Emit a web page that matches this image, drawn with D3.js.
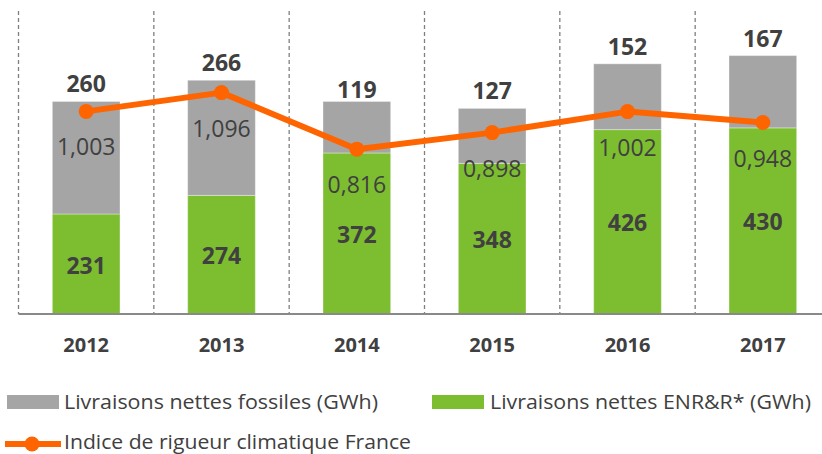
<!DOCTYPE html>
<html>
<head>
<meta charset="utf-8">
<script src="https://cdn.jsdelivr.net/npm/d3@7"></script>
<style>
  html, body { margin: 0; padding: 0; background: #fff; }
  svg { display: block; font-family: "Open Sans", sans-serif; }
</style>
</head>
<body>
<svg id="chart" width="822" height="454"></svg>
<script>
// ---- data ----
const years = ["2012", "2013", "2014", "2015", "2016", "2017"];
const fossiles = [260, 266, 119, 127, 152, 167];
const enr = [231, 274, 372, 348, 426, 430];
const indice = [1.003, 1.096, 0.816, 0.898, 1.002, 0.948];
const legendLabels = [
  "Livraisons nettes fossiles (GWh)",
  "Livraisons nettes ENR&R* (GWh)",
  "Indice de rigueur climatique France"
];

// ---- styles ----
const cGrey = "#a5a5a5", cGreen = "#7dbe31", cOrange = "#fe6500", cText = "#404040";

const svg = d3.select("#chart");
const frLocale = d3.formatLocale({decimal: ",", thousands: "\u00a0", grouping: [3], currency: ["", " €"]});
const fmtIdx = frLocale.format(".3f");

const x = d3.scaleBand().domain(years).range([18.5, 830.5]).paddingInner(0.5).paddingOuter(0.25);
const y = d3.scaleLinear().domain([0, 700]).range([314, 11]);
const y2 = d3.scaleLinear().domain([0, 1.5]).range([314, 11]);

const rows = years.map((yr, i) => ({yr, enr: enr[i], fos: fossiles[i], idx: indice[i]}));

// dashed separators
const bounds = d3.range(years.length + 1).map(i => x.range()[0] + i * x.step());
svg.append("g").selectAll("line").data(bounds).join("line")
  .attr("x1", d => d).attr("x2", d => d)
  .attr("y1", y(700)).attr("y2", y(0))
  .attr("stroke", "#7f7f7f").attr("stroke-width", 1.3)
  .attr("stroke-dasharray", "4,3");

// stacked bars
const stack = d3.stack().keys(["enr", "fos"])(rows);
const colors = {enr: cGreen, fos: cGrey};
svg.append("g").selectAll("g").data(stack).join("g")
  .attr("fill", d => colors[d.key])
  .selectAll("rect").data(d => d).join("rect")
  .attr("x", d => x(d.data.yr))
  .attr("width", x.bandwidth())
  .attr("y", d => y(d[1]))
  .attr("height", d => y(d[0]) - y(d[1]))
  .attr("stroke", "rgba(255,255,255,0.35)").attr("stroke-width", 1);

// axis baseline
const xAxis = d3.axisBottom(x).tickSize(0).tickPadding(0);
const gx = svg.append("g").attr("transform", `translate(0,${y(0)})`).call(xAxis);
gx.select(".domain").attr("d", `M18.5,0H822`).attr("stroke", "#898989").attr("stroke-width", 2);
gx.selectAll("text")
  .attr("y", 38).attr("dy", 0)
  .attr("font-family", "Open Sans").attr("font-size", 20).attr("font-weight", "bold")
  .attr("fill", cText);

// line
const line = d3.line().x(d => x(d.yr) + x.bandwidth() / 2).y(d => y2(d.idx));
svg.append("path").datum(rows)
  .attr("d", line).attr("fill", "none")
  .attr("stroke", cOrange).attr("stroke-width", 6).attr("stroke-linejoin", "round");
svg.append("g").selectAll("circle").data(rows).join("circle")
  .attr("cx", d => x(d.yr) + x.bandwidth() / 2)
  .attr("cy", d => y2(d.idx))
  .attr("r", 7.5).attr("fill", cOrange);

// labels: fossil totals above bars
const topNudge = {"2014": 6};
svg.append("g").selectAll("text").data(rows).join("text")
  .attr("x", d => x(d.yr) + x.bandwidth() / 2)
  .attr("y", d => y(d.enr + d.fos) - 9 + (topNudge[d.yr] || 0))
  .attr("text-anchor", "middle")
  .attr("font-size", 23).attr("font-weight", "bold").attr("fill", cText)
  .text(d => d.fos);

// labels: ENR values centered in green
svg.append("g").selectAll("text").data(rows).join("text")
  .attr("x", d => x(d.yr) + x.bandwidth() / 2)
  .attr("y", d => (y(0) + y(d.enr)) / 2 + 9.5)
  .attr("text-anchor", "middle")
  .attr("font-size", 23).attr("font-weight", "bold").attr("fill", cText)
  .text(d => d.enr);

// labels: index values below points
svg.append("g").selectAll("text").data(rows).join("text")
  .attr("x", d => x(d.yr) + x.bandwidth() / 2)
  .attr("y", d => y2(d.idx) + 44)
  .attr("text-anchor", "middle")
  .attr("font-size", 23).attr("fill", cText)
  .text(d => fmtIdx(d.idx));

// legend
const lg = svg.append("g").attr("font-size", 20).attr("fill", cText);
lg.append("rect").attr("x", 7).attr("y", 395).attr("width", 52).attr("height", 14).attr("fill", cGrey);
lg.append("text").attr("x", 64).attr("y", 408.5).attr("textLength", 314).attr("lengthAdjust", "spacingAndGlyphs").text(legendLabels[0]);
lg.append("rect").attr("x", 432).attr("y", 395).attr("width", 52).attr("height", 14).attr("fill", cGreen);
lg.append("text").attr("x", 490).attr("y", 408.5).attr("textLength", 321).attr("lengthAdjust", "spacingAndGlyphs").text(legendLabels[1]);
lg.append("line").attr("x1", 5).attr("x2", 61).attr("y1", 444).attr("y2", 444).attr("stroke", cOrange).attr("stroke-width", 6);
lg.append("circle").attr("cx", 32).attr("cy", 444).attr("r", 7.5).attr("fill", cOrange);
lg.append("text").attr("x", 64).attr("y", 448.5).attr("font-size", 19.5).attr("textLength", 347).attr("lengthAdjust", "spacingAndGlyphs").text(legendLabels[2]);
</script>
</body>
</html>
